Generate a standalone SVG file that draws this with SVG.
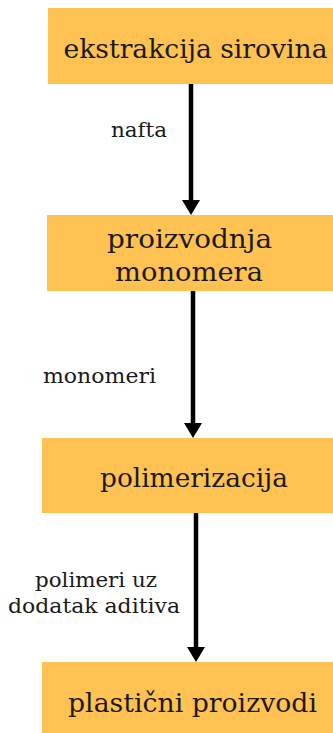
<svg xmlns="http://www.w3.org/2000/svg" width="333" height="733" viewBox="0 0 333 733">
<style>
.box{fill:#FEC253}
.nt{font-family:"DejaVu Serif","Liberation Serif",serif;font-size:26px;fill:#1a1a1a;text-anchor:middle}
.lb{font-family:"DejaVu Serif","Liberation Serif",serif;font-size:21px;fill:#1a1a1a;text-anchor:middle}
.edge{stroke:#000;stroke-width:4.5;fill:none}
.head{fill:#000}
</style>
<rect width="333" height="733" fill="#fff"/>
<g id="connectors">
<line class="edge" x1="191" y1="84" x2="191" y2="203"/>
<polygon class="head" points="182,200 200,200 191,215"/>
<text class="lb" x="139" y="137" textLength="56" lengthAdjust="spacingAndGlyphs">nafta</text>
<line class="edge" x1="193" y1="291" x2="193" y2="426"/>
<polygon class="head" points="184,423 202,423 193,438"/>
<text class="lb" x="99.5" y="383" textLength="113" lengthAdjust="spacingAndGlyphs">monomeri</text>
<line class="edge" x1="196" y1="513" x2="196" y2="650"/>
<polygon class="head" points="187,647 205,647 196,662"/>
<text class="lb" x="96" y="587" textLength="122" lengthAdjust="spacingAndGlyphs">polimeri uz</text>
<text class="lb" x="94" y="613" textLength="172" lengthAdjust="spacingAndGlyphs">dodatak aditiva</text>
</g>
<g id="n1">
<rect class="box" x="48" y="8" width="285" height="76"/>
<text class="nt" x="195.5" y="58" textLength="264" lengthAdjust="spacingAndGlyphs">ekstrakcija sirovina</text>
</g>
<g id="n2">
<rect class="box" x="47" y="215" width="286" height="76"/>
<text class="nt" x="189.5" y="248" textLength="165" lengthAdjust="spacingAndGlyphs">proizvodnja</text>
<text class="nt" x="189" y="281" textLength="148" lengthAdjust="spacingAndGlyphs">monomera</text>
</g>
<g id="n3">
<rect class="box" x="42" y="438" width="291" height="75"/>
<text class="nt" x="194" y="487" textLength="188" lengthAdjust="spacingAndGlyphs">polimerizacija</text>
</g>
<g id="n4">
<rect class="box" x="42" y="662" width="291" height="71"/>
<text class="nt" x="192.5" y="712" textLength="249" lengthAdjust="spacingAndGlyphs">plastični proizvodi</text>
</g>
</svg>
